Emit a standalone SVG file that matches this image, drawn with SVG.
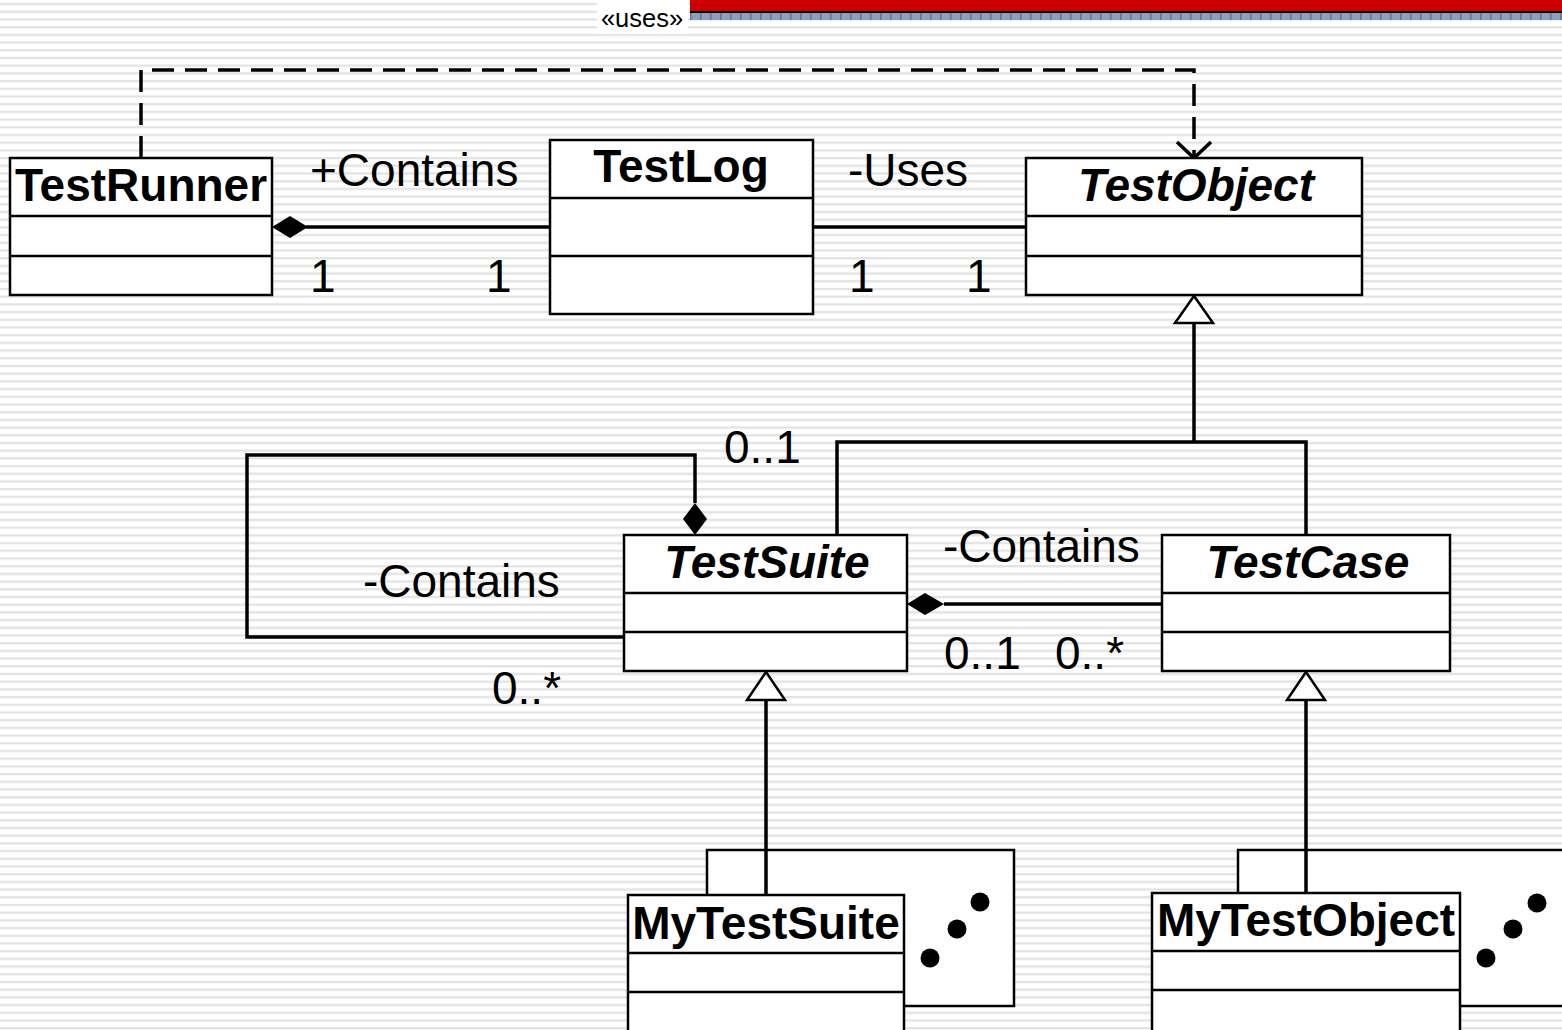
<svg xmlns="http://www.w3.org/2000/svg" width="1562" height="1030" viewBox="0 0 1562 1030">
<defs>
<pattern id="stripes" x="0" y="0" width="16" height="7.7" patternUnits="userSpaceOnUse">
<rect x="0" y="0" width="16" height="7.7" fill="#ffffff"/>
<rect x="0" y="3" width="16" height="2.2" fill="#e2e2e2"/>
</pattern>
<pattern id="check" x="0" y="13" width="10" height="8" patternUnits="userSpaceOnUse">
<rect x="0" y="0" width="10" height="8" fill="#8aa0bc"/>
<rect x="0" y="0" width="1.5" height="8" fill="#5d7696"/>
</pattern>
<style>
.box{fill:#fff;stroke:#000;stroke-width:2.5}
.ln{stroke:#000;stroke-width:2.5;fill:none}
.conn{stroke:#000;stroke-width:3.5;fill:none}
.title{font-family:"Liberation Sans",Arial,sans-serif;font-weight:bold;font-size:46px;text-anchor:middle;fill:#000}
.it{font-style:italic}
.lbl{font-family:"Liberation Sans",Arial,sans-serif;font-size:46px;fill:#000}
.dot{fill:#000}
</style>
</defs>
<rect x="0" y="0" width="1562" height="1030" fill="url(#stripes)"/>
<!-- top bar -->
<rect x="690" y="0" width="872" height="11" fill="#cc0000"/>
<rect x="690" y="11" width="872" height="2" fill="#000"/>
<rect x="690" y="13" width="872" height="7" fill="url(#check)"/>
<rect x="597" y="0" width="91" height="34" fill="#fff"/>
<text x="642" y="27" font-family="Liberation Sans, Arial, sans-serif" font-size="25.5" text-anchor="middle">«uses»</text>

<g id="connectors">
<!-- dependency dashed -->
<path class="conn" d="M141,158 V70 H1194 V156" stroke-dasharray="22,11" stroke-width="3"/>
<path class="conn" d="M1177,142 L1194,158 L1211,142" stroke-width="3"/>
<!-- TestRunner - TestLog -->
<line class="conn" x1="306" y1="227" x2="550" y2="227"/>
<polygon points="272,227 290,216 308,227 290,238" fill="#000"/>
<!-- TestLog - TestObject -->
<line class="conn" x1="813" y1="227" x2="1026" y2="227"/>
<!-- generalization to TestObject -->
<polygon points="1194,296 1175,323 1213,323" fill="#fff" stroke="#000" stroke-width="2.5"/>
<path class="conn" d="M1194,323 V442 M837,535 V442 H1306 V535"/>
<!-- TestSuite self composition -->
<polygon points="695,535 683,519 695,503 707,519" fill="#000"/>
<path class="conn" d="M695,503 V455 H247 V637 H624"/>
<!-- TestSuite - TestCase -->
<polygon points="907,604 925,593 944,604 925,615" fill="#000"/>
<line class="conn" x1="944" y1="604" x2="1162" y2="604"/>
<!-- MyTestSuite gen -->
<polygon points="766,672 747,700 785,700" fill="#fff" stroke="#000" stroke-width="2.5"/>
<line class="conn" x1="766" y1="700" x2="766" y2="895"/>
<!-- MyTestObject gen -->
<polygon points="1306,672 1287,700 1325,700" fill="#fff" stroke="#000" stroke-width="2.5"/>
<line class="conn" x1="1306" y1="700" x2="1306" y2="893"/>
</g>

<g id="labels">
<text class="lbl" x="310" y="186">+Contains</text>
<text class="lbl" x="310" y="292">1</text>
<text class="lbl" x="486" y="292">1</text>
<text class="lbl" x="848" y="186">-Uses</text>
<text class="lbl" x="849" y="292">1</text>
<text class="lbl" x="966" y="292">1</text>
<text class="lbl" x="724" y="463">0..1</text>
<text class="lbl" x="363" y="597">-Contains</text>
<text class="lbl" x="943" y="562">-Contains</text>
<text class="lbl" x="492" y="704">0..*</text>
<text class="lbl" x="944" y="669">0..1</text>
<text class="lbl" x="1055" y="669">0..*</text>
</g>

<g id="TestRunner">
<rect class="box" x="10" y="158" width="262" height="137"/>
<line class="ln" x1="10" y1="216" x2="272" y2="216"/>
<line class="ln" x1="10" y1="256" x2="272" y2="256"/>
<text class="title" x="141" y="201">TestRunner</text>
</g>
<g id="TestLog">
<rect class="box" x="550" y="140" width="263" height="174"/>
<line class="ln" x1="550" y1="198" x2="813" y2="198"/>
<line class="ln" x1="550" y1="256" x2="813" y2="256"/>
<text class="title" x="681" y="182">TestLog</text>
</g>
<g id="TestObject">
<rect class="box" x="1026" y="158" width="336" height="137"/>
<line class="ln" x1="1026" y1="216" x2="1362" y2="216"/>
<line class="ln" x1="1026" y1="256" x2="1362" y2="256"/>
<text class="title it" x="1196" y="201">TestObject</text>
</g>
<g id="TestSuite">
<rect class="box" x="624" y="535" width="283" height="136"/>
<line class="ln" x1="624" y1="593" x2="907" y2="593"/>
<line class="ln" x1="624" y1="632" x2="907" y2="632"/>
<text class="title it" x="767" y="578">TestSuite</text>
</g>
<g id="TestCase">
<rect class="box" x="1162" y="535" width="288" height="136"/>
<line class="ln" x1="1162" y1="593" x2="1450" y2="593"/>
<line class="ln" x1="1162" y1="632" x2="1450" y2="632"/>
<text class="title it" x="1308" y="578">TestCase</text>
</g>
<g id="MyTestSuite">
<rect class="box" x="707" y="850" width="307" height="156"/>
<circle class="dot" cx="930" cy="958" r="9.5"/>
<circle class="dot" cx="957" cy="929" r="9.5"/>
<circle class="dot" cx="980" cy="902" r="9.5"/>
<rect class="box" x="628" y="895" width="276" height="145"/>
<line class="ln" x1="628" y1="953" x2="904" y2="953"/>
<line class="ln" x1="628" y1="992" x2="904" y2="992"/>
<text class="title" x="766" y="939">MyTestSuite</text>
<line class="conn" x1="766" y1="850" x2="766" y2="895"/>
</g>
<g id="MyTestObject">
<rect class="box" x="1238" y="850" width="340" height="156"/>
<circle class="dot" cx="1486" cy="958" r="9.5"/>
<circle class="dot" cx="1513" cy="929" r="9.5"/>
<circle class="dot" cx="1537" cy="903" r="9.5"/>
<rect class="box" x="1152" y="893" width="308" height="147"/>
<line class="ln" x1="1152" y1="951" x2="1460" y2="951"/>
<line class="ln" x1="1152" y1="990" x2="1460" y2="990"/>
<text class="title" x="1306" y="936">MyTestObject</text>
<line class="conn" x1="1306" y1="850" x2="1306" y2="893"/>
</g>
</svg>
